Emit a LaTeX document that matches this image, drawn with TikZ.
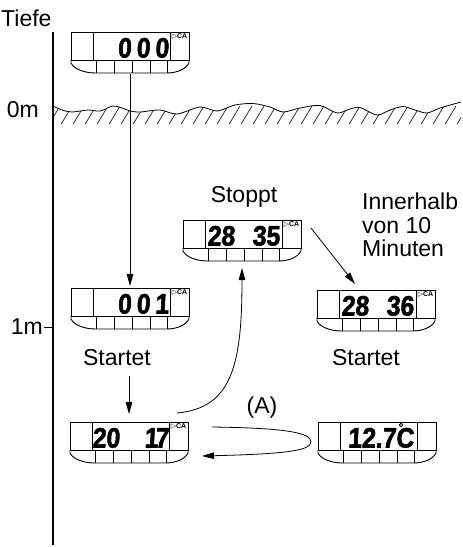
\documentclass[tikz,border=0pt]{standalone}
\usepackage{fontspec}
\setmainfont{Liberation Sans}
\newfontfamily\lcdfont[FakeStretch=0.88,FakeSlant=0.06,FakeBold=2]{Liberation Sans}
\newfontfamily\symfont{DejaVu Sans}
\usetikzlibrary{arrows.meta}

\tikzset{
  lcdframe/.style={minimum width=118pt, minimum height=42pt, inner sep=0pt, outer sep=0pt, anchor=north west},
  lcdline/.style={line width=0.9pt},
  digits/.style={font=\lcdfont\bfseries\fontsize{28pt}{28pt}\selectfont, inner sep=0pt, anchor=base east},
  tickmark/.style={font=\symfont\bfseries\fontsize{5.5pt}{5.5pt}\selectfont, inner sep=0pt},
  catag/.style={font=\bfseries\fontsize{7pt}{7pt}\selectfont, inner sep=0pt},
  txt/.style={font=\fontsize{23pt}{23.5pt}\selectfont, inner sep=1pt},
  arr/.style={-{Triangle[length=12pt,width=6.5pt]}, line width=0.8pt},
  hatch/.style={line width=0.6pt},
}

% one display: name, top left corner, readout
\newcommand\lcd[3]{%
  \node[lcdframe] (#1) at (#2) {};
  \begin{scope}[shift={(#1.north west)}]
    \draw[lcdline] (0,0) rectangle (118,28) (22,0) -- (22,28) (99,0) -- (99,28);
    \draw[lcdline] (0,28) -- (0,31) .. controls (3,37) and (13,41) .. (25,41) -- (96,41)
      .. controls (106,41) and (115,37) .. (118,31) -- (118,28);
    \foreach \k in {25,43,61,79,96} \draw[lcdline] (\k,28) -- (\k,41);
    #3
  \end{scope}}

% minute/second marks and the CA tag
\newcommand\timemarks[1]{%
  \node[tickmark] (#1-min) at (57,2.5) {′};
  \node[tickmark] (#1-sec) at (91,2.5) {″};
  \node[catag] (#1-ca) at (108.5,4.5) {{\symfont ▷}CA};}

\begin{document}
\begin{tikzpicture}[x=1pt, y=-1pt]
  \useasboundingbox (0,0) rectangle (463,547);

  % depth axis
  \coordinate (axtop) at (53,32);
  \coordinate (axbot) at (53,545);
  \draw[line width=1.6pt] (axtop) -- (axbot);
  \node[txt, anchor=west] (depth) at (0,18) {Tiefe};
  \node[txt, anchor=east] (m0) at (40,110) {0m};
  \node[txt, anchor=east] (m1) at (44,327) {1m};
  \draw[line width=0.8pt] (m1.east) -- (m1.east -| axtop);

  % water surface
  \def\wave{(53,106) (62,110) (72,112) (88,110) (100,111) (113,106) (122,108) (130,111)
    (140,112) (160,110) (177,114) (200,107) (217,111) (235,105) (253,103.5) (270,107)
    (283,112) (300,108) (320,105.5) (337,113) (350,109) (360,107.5) (377,115) (390,110)
    (403,106.5) (415,110) (427,113) (440,108) (461,102)}
  \begin{scope}
    \clip plot[smooth] coordinates {\wave} -- (461,124) -- (53,124) -- cycle;
    \foreach \h in {36,48,...,468} \draw[hatch] (\h,126) -- ++(12,-20);
  \end{scope}
  \draw[line width=0.8pt] plot[smooth] coordinates {\wave};

  % displays
  \lcd{d0}{71,32}{%
    \node[digits] (d0-val) at (98,25.5) {0\hspace{5pt}0\hspace{5pt}0};
    \timemarks{d0}}
  \lcd{d1}{71,288}{%
    \node[digits] (d1-val) at (98,25.5) {0\hspace{5pt}0\hspace{5pt}1};
    \timemarks{d1}}
  \lcd{d2}{70,422}{%
    \node[digits] (d2-hh) at (50,25.5) {20};
    \node[digits] (d2-mm) at (99,25.5) {1\kern-3pt7};
    \timemarks{d2}}
  \lcd{d3}{183,220}{%
    \node[digits] (d3-hh) at (52,25.5) {28};
    \node[digits] (d3-mm) at (97,25.5) {35};
    \timemarks{d3}}
  \lcd{d4}{317,290}{%
    \node[digits] (d4-hh) at (52,25.5) {28};
    \node[digits] (d4-mm) at (97,25.5) {36};
    \timemarks{d4}}
  \lcd{d5}{318,422}{%
    \node[digits] (d5-val) at (96,25.5) {12.7C};
    \draw[lcdline] (83,3) circle (1.8);}

  % texts
  \node[txt, anchor=base] (stop) at (244,202) {Stoppt};
  \node[txt, anchor=north west, align=left] (within) at (361,192) {Innerhalb\\von 10\\Minuten};
  \node[txt, anchor=base] (start1) at (117,365) {Startet};
  \node[txt, anchor=base] (start2) at (366,365) {Startet};
  \node[txt, anchor=base] (loopA) at (262,413) {(A)};

  % arrows
  \draw[arr] (d0.south) -- ([yshift=2pt]d1.north);
  \coordinate (start-in) at ([yshift=8pt]d2.north);
  \coordinate (start-from) at ([yshift=-10pt]start1.south -| start-in);
  \draw[arr] (start-from) -- (start-in);
  \coordinate (up-from) at (177,413);
  \draw[arr] (up-from) .. controls (232,408) and (242,365) .. ([yshift=-6pt]d3.south);
  \coordinate (diag-from) at (311,228);
  \draw[arr] (diag-from) -- ([xshift=-21pt,yshift=6pt]d4.north);
  \coordinate (loop-from) at (212,427);
  \coordinate (loop-to) at (202,456);
  \draw[arr] (loop-from) .. controls (288,428) and (311,433) .. (311,442)
    .. controls (311,451) and (282,454) .. (loop-to);
\end{tikzpicture}
\end{document}
